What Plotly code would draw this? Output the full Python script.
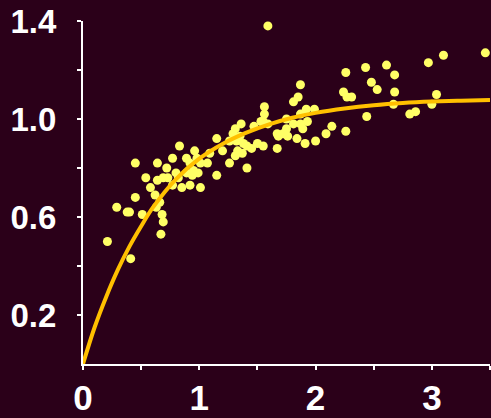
import plotly.graph_objects as go

obs_x = [0.21, 0.41, 0.29, 0.38, 0.40, 0.51, 0.68, 0.69, 0.67, 0.45,
         0.62, 0.66, 0.63, 0.45, 0.54, 0.58, 0.64, 0.69, 0.73, 0.64,
         0.72, 0.77, 0.83, 0.80, 0.82, 0.77, 0.85, 0.92, 1.01, 0.96,
         0.98, 0.89, 0.92, 1.01, 0.95, 0.99, 0.89, 0.94, 1.09, 1.07,
         1.15, 1.15, 1.20, 1.26, 1.26, 1.32, 1.38, 1.41, 1.29, 1.31,
         1.36, 1.33, 1.31, 1.37, 1.41, 1.45, 1.50, 1.55, 1.35, 1.47,
         1.53, 1.56, 1.56, 1.55, 1.59, 1.59, 1.67, 1.68, 1.72, 1.75,
         1.75, 1.76, 1.81, 1.84, 1.87, 1.89, 1.91, 1.87, 1.92, 1.99,
         1.93, 2.00, 2.09, 2.14, 2.26, 1.67, 1.87, 1.85, 1.81, 2.24,
         2.27, 2.31, 2.26, 2.43, 2.61, 2.68, 2.48, 2.53, 2.68, 2.44,
         2.67, 2.81, 2.86, 3.00, 3.04, 2.97, 3.10, 3.46]
obs_y = [0.50, 0.43, 0.64, 0.62, 0.62, 0.61, 0.61, 0.58, 0.53, 0.68,
         0.69, 0.66, 0.64, 0.82, 0.76, 0.72, 0.75, 0.76, 0.76, 0.82,
         0.80, 0.84, 0.89, 0.78, 0.76, 0.73, 0.72, 0.73, 0.72, 0.87,
         0.84, 0.84, 0.82, 0.82, 0.79, 0.78, 0.78, 0.77, 0.86, 0.82,
         0.77, 0.92, 0.87, 0.82, 0.91, 0.91, 0.90, 0.89, 0.94, 0.96,
         0.98, 0.87, 0.85, 0.86, 0.80, 0.88, 0.90, 0.89, 0.93, 0.97,
         0.99, 1.05, 1.02, 0.99, 0.98, 1.38, 0.94, 0.93, 0.94, 0.96,
         1.00, 0.93, 0.98, 0.92, 0.98, 0.96, 0.90, 1.02, 1.04, 1.04,
         0.99, 0.91, 0.94, 0.97, 0.95, 0.88, 1.14, 1.09, 1.07, 1.11,
         1.09, 1.09, 1.19, 1.21, 1.22, 1.18, 1.15, 1.12, 1.11, 1.01,
         1.06, 1.02, 1.03, 1.06, 1.10, 1.23, 1.26, 1.27]

# Fitted curve
fit_x = [0, 0.1, 0.2, 0.3, 0.4, 0.5, 0.6, 0.8, 1.0, 1.2, 1.4, 1.6, 1.8,
         2.0, 2.25, 2.5, 2.75, 3.0, 3.25, 3.5]
fit_y = [0, 0.150, 0.275, 0.385, 0.480, 0.562, 0.638, 0.755, 0.838, 0.898,
         0.943, 0.978, 1.005, 1.025, 1.043, 1.056, 1.065, 1.071, 1.075, 1.078]

# Axis ticks
x_tickvals = [0, 0.5, 1, 1.5, 2, 2.5, 3, 3.5]
x_ticktext = ["0", "", "1", "", "2", "", "3", ""]
y_tickvals = [0.2, 0.4, 0.6, 0.8, 1.0, 1.2, 1.4]
y_ticktext = ["0.2", "", "0.6", "", "1.0", "", "1.4"]

BG = "#2b0019"

fig = go.Figure()
fig.add_trace(go.Scatter(
    x=obs_x, y=obs_y, mode="markers",
    marker=dict(color="#ffff66", size=9, line=dict(width=0)),
    cliponaxis=False, showlegend=False, hoverinfo="skip"))
fig.add_trace(go.Scatter(
    x=fit_x, y=fit_y, mode="lines", line=dict(color="#ffc000", width=4, shape="spline"),
    cliponaxis=False, showlegend=False, hoverinfo="skip"))

fig.update_layout(
    width=491, height=418,
    margin=dict(l=83, r=1, t=21, b=54),
    paper_bgcolor=BG, plot_bgcolor=BG,
    font=dict(family="Liberation Sans, Arial, sans-serif", color="white"),
)
fig.update_xaxes(
    range=[0, 3.5], showgrid=False, zeroline=False, automargin=False,
    showline=True, linecolor="white", linewidth=2,
    ticks="outside", ticklen=4, tickwidth=1.5, tickcolor="white",
    tickvals=x_tickvals, ticktext=x_ticktext,
    tickfont=dict(size=35, color="white", weight="bold"),
    ticklabelstandoff=-2,
)
fig.update_yaxes(
    range=[0, 1.4], showgrid=False, zeroline=False, automargin=False,
    showline=True, linecolor="white", linewidth=2,
    ticks="outside", ticklen=4, tickwidth=1.5, tickcolor="white",
    tickvals=y_tickvals, ticktext=y_ticktext,
    tickfont=dict(size=33, color="white", weight="bold"),
    ticklabelstandoff=14,
)

fig.write_html(
    "out.html",
    config={"displayModeBar": False},
    post_script="document.body.style.margin='0';document.body.style.background='%s';" % BG,
)
